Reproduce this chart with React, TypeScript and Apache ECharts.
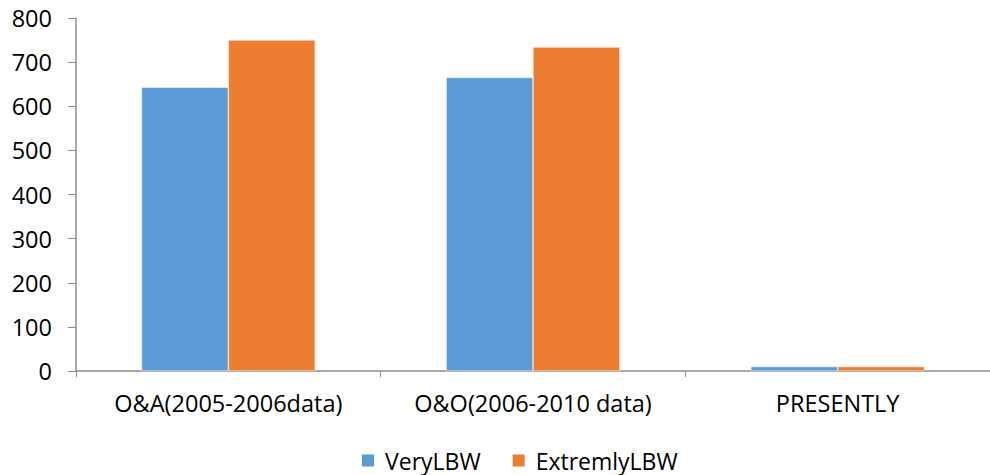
import React, { useEffect, useRef } from "react";
import * as echarts from "echarts";

const categories = ["O&A(2005-2006data)", "O&O(2006-2010 data)", "PRESENTLY"];
const veryLBW = [643, 665, 10];
const extremlyLBW = [750, 734, 10];
const yMin = 0;
const yMax = 800;
const yStep = 100;

const FONT = "'Open Sans', sans-serif";
const AXIS_COLOR = "#8c8c8c";

export default function App() {
  const ref = useRef<HTMLDivElement>(null);

  useEffect(() => {
    if (!ref.current) return;
    const chart = echarts.init(ref.current, null, { renderer: "svg" });
    chart.setOption({
      animation: false,
      backgroundColor: "#ffffff",
      grid: { left: 76, top: 18, right: -10, height: 353, containLabel: false },
      legend: {
        left: 355,
        top: 444,
        itemWidth: 14,
        itemHeight: 14,
        itemGap: 30,
        icon: "rect",
        textStyle: { fontFamily: FONT, fontSize: 23, color: "#000", padding: [0, 0, 0, 5] },
        data: ["VeryLBW", "ExtremlyLBW"],
      },
      xAxis: {
        type: "category",
        data: categories,
        axisLine: { lineStyle: { color: AXIS_COLOR, width: 1.5 } },
        axisTick: { show: true, length: 6, lineStyle: { color: AXIS_COLOR } },
        axisLabel: {
          fontFamily: FONT,
          fontSize: 23.5,
          color: "#000",
          margin: 20,
          interval: 0,
          hideOverlap: false,
        },
        splitLine: { show: false },
      },
      yAxis: {
        type: "value",
        min: yMin,
        max: yMax,
        interval: yStep,
        axisLine: { show: true, lineStyle: { color: AXIS_COLOR, width: 1.5 } },
        axisTick: { show: true, length: 8, lineStyle: { color: AXIS_COLOR } },
        axisLabel: { fontFamily: FONT, fontSize: 23.5, color: "#000", margin: 24 },
        splitLine: { show: false },
      },
      series: [
        {
          name: "VeryLBW",
          type: "bar",
          data: veryLBW,
          barGap: "0%",
          barCategoryGap: "43%",
          itemStyle: { color: "#5b9bd5", borderColor: "#ffffff", borderWidth: 0.5 },
        },
        {
          name: "ExtremlyLBW",
          type: "bar",
          data: extremlyLBW,
          barGap: "0%",
          barCategoryGap: "43%",
          itemStyle: { color: "#ed7d31", borderColor: "#ffffff", borderWidth: 0.5 },
        },
      ],
    });
    return () => chart.dispose();
  }, []);

  return (
    <div
      ref={ref}
      style={{ position: "fixed", left: 0, top: 0, width: 990, height: 475, background: "#fff" }}
    />
  );
}
